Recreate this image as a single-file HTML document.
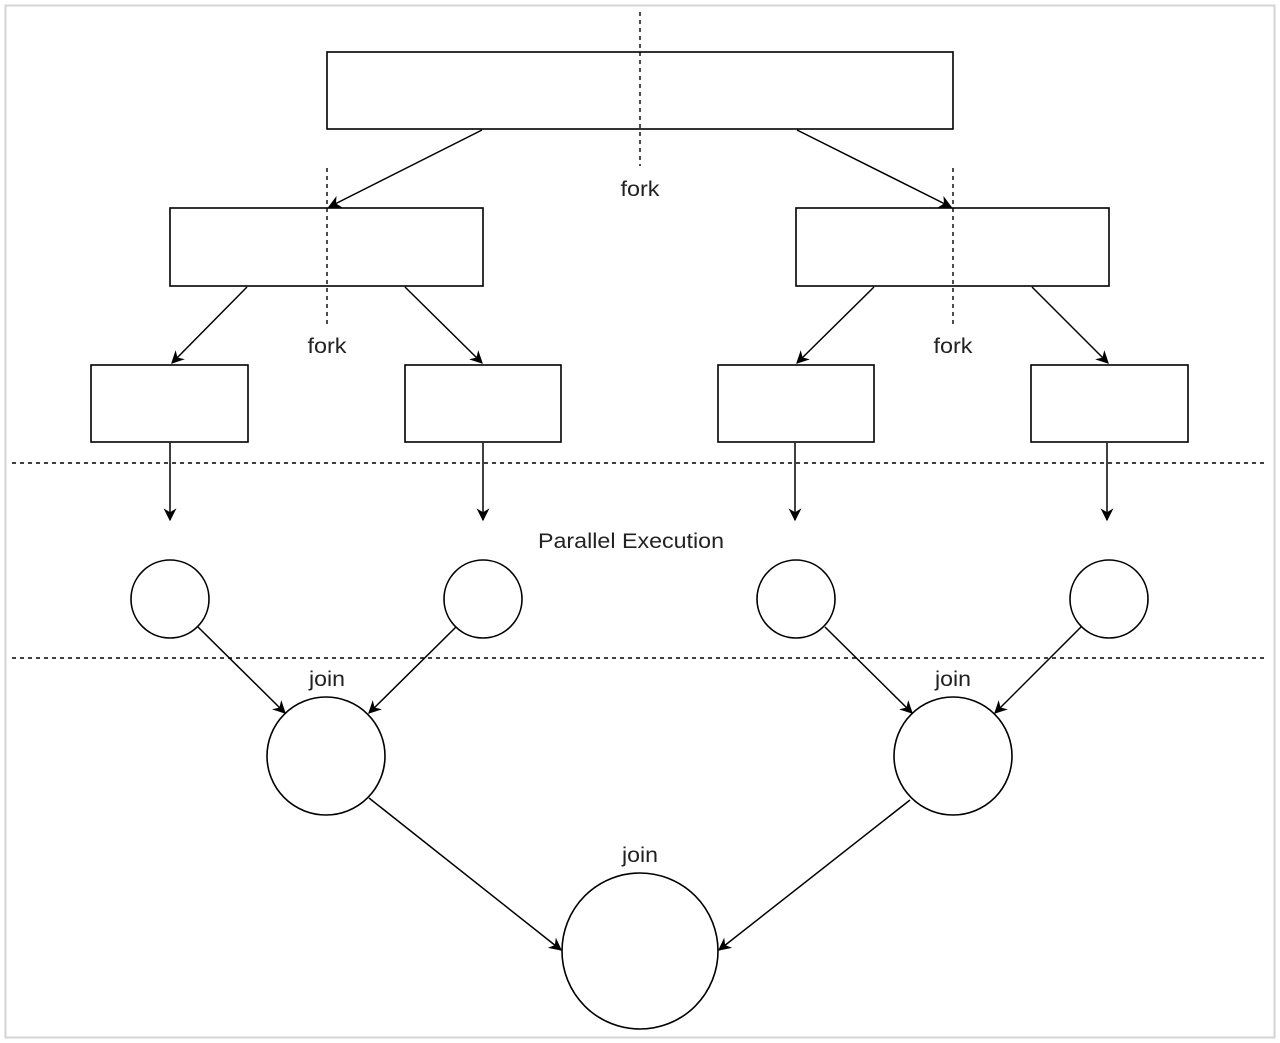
<!DOCTYPE html>
<html><head><style>html,body{margin:0;padding:0;background:#fff}svg{display:block}</style></head>
<body>
<svg width="1280" height="1043" viewBox="0 0 1280 1043" xmlns="http://www.w3.org/2000/svg">
<defs>
<marker id="a" viewBox="0 0 10 10" refX="9" refY="5" markerWidth="13" markerHeight="13" orient="auto" markerUnits="userSpaceOnUse">
<path d="M0,0 L10,5 L0,10 L3,5 Z" fill="#000"/>
</marker>
</defs>
<rect x="5.5" y="5.5" width="1269" height="1032" fill="#fff" stroke="#d4d4d4" stroke-width="2"/>
<g fill="none" stroke="#000" stroke-width="1.6">
<rect x="327" y="52" width="626" height="77"/>
<rect x="170" y="208" width="313" height="78"/>
<rect x="796" y="208" width="313" height="78"/>
<rect x="91" y="365" width="157" height="77"/>
<rect x="405" y="365" width="156" height="77"/>
<rect x="718" y="365" width="156" height="77"/>
<rect x="1031" y="365" width="157" height="77"/>
<circle cx="170" cy="599" r="39"/>
<circle cx="483" cy="599" r="39"/>
<circle cx="796" cy="599" r="39"/>
<circle cx="1109" cy="599" r="39"/>
<circle cx="326" cy="756" r="59"/>
<circle cx="953" cy="756" r="59"/>
<circle cx="640" cy="951" r="78"/>
</g>
<g stroke="#000" stroke-width="1.4" stroke-dasharray="4,4" fill="none">
<line x1="640" y1="12" x2="640" y2="166"/>
<line x1="327" y1="168" x2="327" y2="326"/>
<line x1="953" y1="168" x2="953" y2="326"/>
<line x1="12" y1="463" x2="1268" y2="463"/>
<line x1="12" y1="658" x2="1268" y2="658"/>
</g>
<g stroke="#000" stroke-width="1.5" fill="none" marker-end="url(#a)">
<line x1="482" y1="130" x2="329" y2="207"/>
<line x1="797" y1="130" x2="951" y2="207"/>
<line x1="247" y1="287" x2="172" y2="363"/>
<line x1="405" y1="287" x2="482" y2="363"/>
<line x1="874" y1="287" x2="797" y2="363"/>
<line x1="1032" y1="287" x2="1108" y2="363"/>
<line x1="170" y1="443" x2="170" y2="520"/>
<line x1="483" y1="443" x2="483" y2="520"/>
<line x1="795" y1="443" x2="795" y2="520"/>
<line x1="1107" y1="443" x2="1107" y2="520"/>
<line x1="198" y1="627" x2="285" y2="713"/>
<line x1="456" y1="627" x2="369" y2="713"/>
<line x1="825" y1="627" x2="912" y2="713"/>
<line x1="1081" y1="627" x2="995" y2="713"/>
<line x1="369" y1="798" x2="561" y2="950"/>
<line x1="910" y1="800" x2="719" y2="950"/>
</g>
<g font-family="Liberation Sans, sans-serif" font-size="21" fill="#222" text-anchor="middle">
<text x="640" y="196" textLength="39" lengthAdjust="spacingAndGlyphs">fork</text>
<text x="327" y="353" textLength="39" lengthAdjust="spacingAndGlyphs">fork</text>
<text x="953" y="353" textLength="39" lengthAdjust="spacingAndGlyphs">fork</text>
<text x="631" y="548" textLength="186" lengthAdjust="spacingAndGlyphs">Parallel Execution</text>
<text x="327" y="686" textLength="36" lengthAdjust="spacingAndGlyphs">join</text>
<text x="953" y="686" textLength="36" lengthAdjust="spacingAndGlyphs">join</text>
<text x="640" y="862" textLength="36" lengthAdjust="spacingAndGlyphs">join</text>
</g>
</svg>
</body></html>
